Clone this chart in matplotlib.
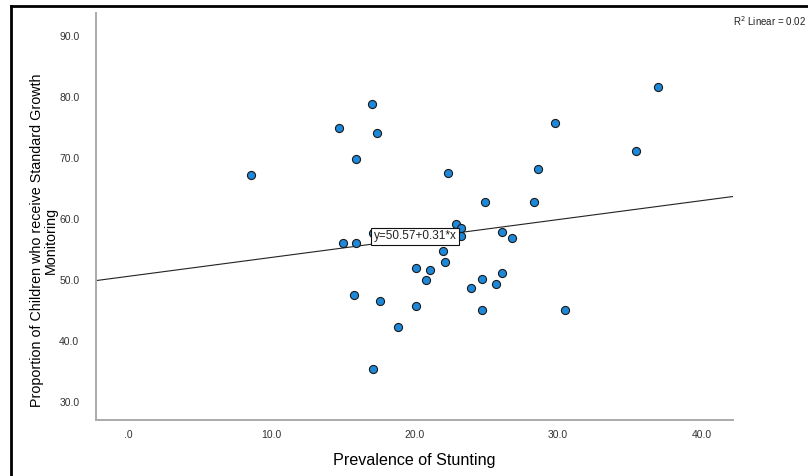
import matplotlib
matplotlib.use("Agg")
import matplotlib.pyplot as plt
from matplotlib.lines import Line2D

plt.rcParams['font.family'] = ['Liberation Sans', 'DejaVu Sans']

# Prevalence of stunting (x) for each point
stunting = [8.6, 14.7, 17.0, 17.4, 15.9, 37.0, 29.8, 35.4, 22.3, 28.6,
            24.9, 28.3, 22.9, 23.2, 23.2, 26.1, 26.8, 15.0, 15.9, 15.8,
            17.6, 18.8, 17.1, 22.0, 22.1, 20.1, 21.1, 20.8, 23.9, 24.7,
            25.7, 26.1, 20.1, 24.7, 30.5, 17.1]

# Proportion of children receiving growth monitoring (y)
monitoring = [67.2, 74.8, 78.8, 74.1, 69.8, 81.6, 75.7, 71.1, 67.5, 68.2,
              62.8, 62.7, 59.2, 58.5, 57.2, 57.8, 56.9, 56.0, 56.0, 47.6,
              46.6, 42.2, 35.4, 54.8, 52.9, 51.9, 51.6, 50.0, 48.6, 50.1,
              49.3, 51.1, 45.8, 45.0, 45.0, 57.7]

# Fit line from the chart
intercept = 50.57
slope = 0.31
r2_text = "R$^2$ Linear = 0.02"

x_ticks = [0, 10, 20, 30, 40]
x_tick_labels = [".0", "10.0", "20.0", "30.0", "40.0"]
y_ticks = [30, 40, 50, 60, 70, 80, 90]
y_tick_labels = ["30.0", "40.0", "50.0", "60.0", "70.0", "80.0", "90.0"]

fig = plt.figure(figsize=(8.08, 4.76), dpi=100)
ax = fig.add_axes([96 / 808, 1 - 420 / 476, 637 / 808, 407 / 476])

xmin, xmax = -2.23, 42.2
ax.set_xlim(xmin, xmax)
ax.set_ylim(27.05, 93.7)

# Points
ax.scatter(stunting, monitoring, s=34, c='#1e88d8', edgecolors='#1a1a1a',
           linewidths=0.8, zorder=3)

# Regression line
ax.plot([xmin, xmax], [intercept + slope * xmin, intercept + slope * xmax],
        color='#222222', lw=0.8, zorder=2)

# Equation label
ax.text(17.15, 57.1, "y=%.2f+%.2f*x" % (intercept, slope), fontsize=8.5,
        va='center', ha='left', color='#222222', zorder=5,
        bbox=dict(boxstyle='square,pad=0.22', fc='white', ec='#111111', lw=0.8))

ax.set_xticks(x_ticks)
ax.set_xticklabels(x_tick_labels)
ax.set_yticks(y_ticks)
ax.set_yticklabels(y_tick_labels)
ax.tick_params(axis='both', length=0, labelsize=7.5, colors='#333333')
ax.tick_params(axis='y', pad=12)
ax.tick_params(axis='x', pad=7)

for side in ['top', 'right']:
    ax.spines[side].set_visible(False)
for side in ['left', 'bottom']:
    ax.spines[side].set_color('#aaaaaa')
    ax.spines[side].set_linewidth(1.4)

# Axis titles
fig.text(414 / 808, 1 - 461 / 476, "Prevalence of Stunting", fontsize=11.6,
         ha='center', va='center')
fig.text(44 / 808, 1 - 240 / 476,
         "Proportion of Children who receive Standard Growth\nMonitoring",
         fontsize=10.3, rotation=90, ha='center', va='center',
         multialignment='center', linespacing=1.05)

# R squared note at top right
fig.text(733 / 808, 1 - 21 / 476, r2_text, fontsize=7, ha='left',
         va='center', color='#222222')

# Outer frame (left and top edges)
fig.add_artist(Line2D([10.5 / 808, 10.5 / 808], [0, 1 - 6 / 476],
                      transform=fig.transFigure, color='black', lw=2))
fig.add_artist(Line2D([10.5 / 808, 1], [1 - 6 / 476, 1 - 6 / 476],
                      transform=fig.transFigure, color='black', lw=2))

fig.savefig("out.png", dpi=100)
